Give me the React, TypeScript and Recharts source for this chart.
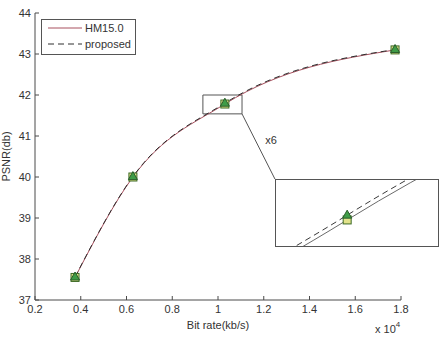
import {
  LineChart,
  Line,
  XAxis,
  YAxis,
  Legend,
  Label,
  ReferenceArea,
  ReferenceLine,
  ReferenceDot,
} from "recharts";

// bit rate in units of 10^4 kb/s
const bitRates = [0.375, 0.628, 1.03, 1.774];
const hmPsnr = [37.55, 40.0, 41.78, 43.1];
const proposedPsnr = [37.56, 40.01, 41.8, 43.11];

const xTicks = [0.2, 0.4, 0.6, 0.8, 1, 1.2, 1.4, 1.6, 1.8];
const yTicks = [37, 38, 39, 40, 41, 42, 43, 44];

// zoom window around the third point, and the x6 inset view of it
const zoomX = [0.934, 1.105];
const zoomY = [41.54, 42.0];
const insetX = [0.9775, 1.097];
const insetY = [41.671, 41.947];
const connectorEnd = { x: 1.249, y: 39.95 };
const zoomLabelAt = { x: 1.232, y: 40.9 };

const FONT = "'Liberation Sans', Arial, sans-serif";
const AXIS = "#4a4a4a";
const HM_COLOR = "#a8505e";
const PROP_COLOR = "#2e2e2e";

const data = bitRates.map((r, i) => ({
  rate: r,
  hm: hmPsnr[i],
  proposed: proposedPsnr[i],
}));

const SquareDot = (p: any) => {
  if (p.cx == null || p.cy == null) return null;
  return (
    <rect
      key={`sq-${p.index}`}
      x={p.cx - 4}
      y={p.cy - 4}
      width={8}
      height={8}
      fill="#e2e28a"
      stroke="#3d6b25"
      strokeWidth={1}
    />
  );
};

const TriangleDot = (p: any) => {
  if (p.cx == null || p.cy == null) return null;
  const { cx, cy } = p;
  return (
    <path
      key={`tr-${p.index}`}
      d={`M${cx},${cy - 5}L${cx + 4.5},${cy + 3}L${cx - 4.5},${cy + 3}Z`}
      fill="#3f9c47"
      stroke="#2a5e2a"
      strokeWidth={1}
    />
  );
};

const XTick = ({ x, y, payload }: any) => (
  <g>
    <line x1={x} x2={x} y1={y} y2={y - 4} stroke={AXIS} />
    <text
      x={x}
      y={y + 13}
      textAnchor="middle"
      fontSize={11}
      fontFamily={FONT}
      fill="#333"
    >
      {String(payload.value)}
    </text>
  </g>
);

const YTick = ({ x, y, payload }: any) => (
  <g>
    <line x1={x} x2={x + 4} y1={y} y2={y} stroke={AXIS} />
    <text
      x={x - 4}
      y={y + 4}
      textAnchor="end"
      fontSize={11}
      fontFamily={FONT}
      fill="#333"
    >
      {String(payload.value)}
    </text>
  </g>
);

const LegendBox = () => (
  <div
    style={{
      width: 95,
      height: 36,
      boxSizing: "border-box",
      border: "1px solid #555",
      background: "#fff",
    }}
  >
    <svg width={93} height={34} style={{ display: "block" }}>
      <line x1={6} x2={40} y1={8} y2={8} stroke={HM_COLOR} strokeWidth={1} />
      <text x={43} y={12} fontSize={11} fontFamily={FONT} fill="#333">
        HM15.0
      </text>
      <line
        x1={6}
        x2={40}
        y1={24}
        y2={24}
        stroke={PROP_COLOR}
        strokeWidth={1}
        strokeDasharray="6 4"
      />
      <text x={43} y={28} fontSize={11} fontFamily={FONT} fill="#333">
        proposed
      </text>
    </svg>
  </div>
);

function Inset() {
  return (
    <div
      style={{
        position: "absolute",
        left: 275,
        top: 179,
        width: 164,
        height: 68,
        boxSizing: "border-box",
        border: "1px solid #555",
        background: "#fff",
        overflow: "hidden",
      }}
    >
      <LineChart
        width={162}
        height={66}
        data={data}
        margin={{ top: 0, right: 0, bottom: 0, left: 0 }}
      >
        <XAxis
          dataKey="rate"
          type="number"
          domain={insetX}
          allowDataOverflow
          hide
        />
        <YAxis type="number" domain={insetY} allowDataOverflow hide />
        <Line
          dataKey="hm"
          type="monotone"
          stroke="#6a6a6a"
          strokeWidth={1}
          dot={SquareDot}
          isAnimationActive={false}
        />
        <Line
          dataKey="proposed"
          type="monotone"
          stroke="#3a3a3a"
          strokeWidth={1}
          strokeDasharray="6 4"
          dot={TriangleDot}
          isAnimationActive={false}
        />
      </LineChart>
    </div>
  );
}

export default function App() {
  return (
    <div
      style={{
        position: "absolute",
        left: 0,
        top: 0,
        width: 448,
        height: 346,
        background: "#fff",
      }}
    >
      <LineChart
        width={448}
        height={346}
        data={data}
        margin={{ top: 13, right: 47, bottom: 0, left: 0 }}
      >
        <XAxis
          dataKey="rate"
          type="number"
          domain={[0.2, 1.8]}
          ticks={xTicks}
          interval={0}
          tickSize={0}
          tickMargin={0}
          tick={XTick}
          height={46}
          stroke={AXIS}
        >
          <Label
            content={(p: any) => {
              const vb = p.viewBox || {};
              const cx = vb.x + vb.width / 2;
              return (
                <g>
                  <text
                    x={cx}
                    y={vb.y + 29}
                    textAnchor="middle"
                    fontSize={11}
                    fontFamily={FONT}
                    fill="#333"
                  >
                    Bit rate(kb/s)
                  </text>
                  <text
                    x={vb.x + vb.width - 26}
                    y={vb.y + 33}
                    fontSize={11}
                    fontFamily={FONT}
                    fill="#333"
                  >
                    x 10
                    <tspan fontSize={8} dy={-6}>
                      4
                    </tspan>
                  </text>
                </g>
              );
            }}
          />
        </XAxis>
        <YAxis
          type="number"
          domain={[37, 44]}
          ticks={yTicks}
          interval={0}
          tickSize={0}
          tickMargin={0}
          tick={YTick}
          width={35}
          stroke={AXIS}
        >
          <Label
            content={(p: any) => {
              const vb = p.viewBox || {};
              const cy = vb.y + vb.height / 2;
              return (
                <text
                  x={10}
                  y={cy}
                  transform={`rotate(-90 10 ${cy})`}
                  textAnchor="middle"
                  fontSize={11}
                  fontFamily={FONT}
                  fill="#333"
                >
                  PSNR(db)
                </text>
              );
            }}
          />
        </YAxis>
        <Legend
          layout="horizontal"
          verticalAlign="middle"
          align="center"
          wrapperStyle={{ left: 41, top: 19, width: 95, height: 36 }}
          content={() => <LegendBox />}
        />
        <ReferenceArea
          x1={zoomX[0]}
          x2={zoomX[1]}
          y1={zoomY[0]}
          y2={zoomY[1]}
          fill="none"
          fillOpacity={0}
          stroke="#555"
          strokeWidth={1}
        />
        <ReferenceLine
          segment={[
            { x: zoomX[1], y: zoomY[0] },
            { x: connectorEnd.x, y: connectorEnd.y },
          ]}
          stroke="#555"
          strokeWidth={1}
        />
        <ReferenceDot
          x={zoomLabelAt.x}
          y={zoomLabelAt.y}
          r={0}
          fill="none"
          stroke="none"
          label={{
            value: "x6",
            position: "center",
            fontSize: 11,
            fontFamily: FONT,
            fill: "#333",
          }}
        />
        <Line
          dataKey="hm"
          type="monotone"
          stroke={HM_COLOR}
          strokeWidth={1}
          dot={SquareDot}
          isAnimationActive={false}
        />
        <Line
          dataKey="proposed"
          type="monotone"
          stroke={PROP_COLOR}
          strokeWidth={1}
          strokeDasharray="6 4"
          dot={TriangleDot}
          isAnimationActive={false}
        />
      </LineChart>
      <Inset />
    </div>
  );
}
